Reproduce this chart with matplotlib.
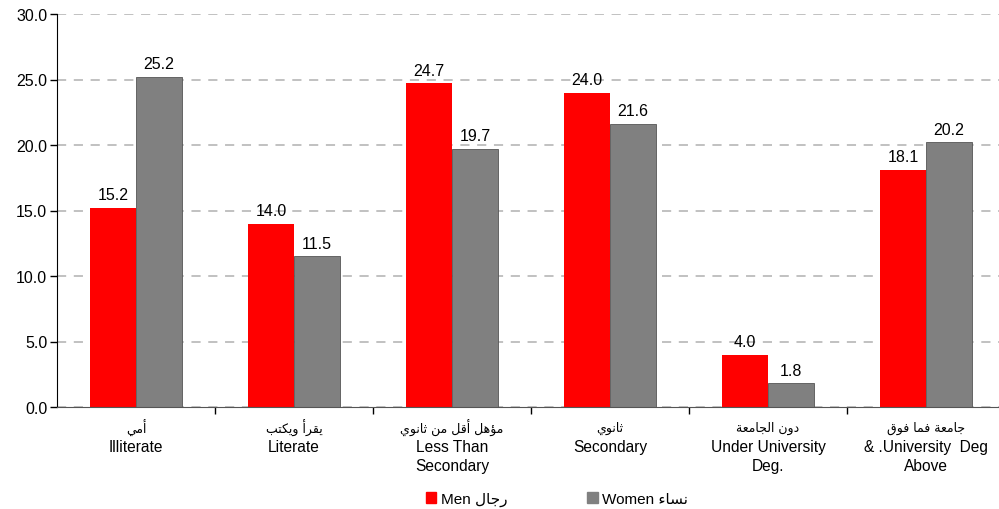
import matplotlib
matplotlib.use("Agg")
import matplotlib.pyplot as plt
import matplotlib.transforms as mtransforms
from matplotlib.patches import Patch
import numpy as np

# Arabic presentation forms: (isolated, final, initial, medial)
ARABIC_FORMS = {
    'ء': (0xFE80, None, None, None),
    'أ': (0xFE83, 0xFE84, None, None),
    'ؤ': (0xFE85, 0xFE86, None, None),
    'ا': (0xFE8D, 0xFE8E, None, None),
    'ب': (0xFE8F, 0xFE90, 0xFE91, 0xFE92),
    'ة': (0xFE93, 0xFE94, None, None),
    'ت': (0xFE95, 0xFE96, 0xFE97, 0xFE98),
    'ث': (0xFE99, 0xFE9A, 0xFE9B, 0xFE9C),
    'ج': (0xFE9D, 0xFE9E, 0xFE9F, 0xFEA0),
    'د': (0xFEA9, 0xFEAA, None, None),
    'ر': (0xFEAD, 0xFEAE, None, None),
    'س': (0xFEB1, 0xFEB2, 0xFEB3, 0xFEB4),
    'ع': (0xFEC9, 0xFECA, 0xFECB, 0xFECC),
    'ف': (0xFED1, 0xFED2, 0xFED3, 0xFED4),
    'ق': (0xFED5, 0xFED6, 0xFED7, 0xFED8),
    'ك': (0xFED9, 0xFEDA, 0xFEDB, 0xFEDC),
    'ل': (0xFEDD, 0xFEDE, 0xFEDF, 0xFEE0),
    'م': (0xFEE1, 0xFEE2, 0xFEE3, 0xFEE4),
    'ن': (0xFEE5, 0xFEE6, 0xFEE7, 0xFEE8),
    'ه': (0xFEE9, 0xFEEA, 0xFEEB, 0xFEEC),
    'و': (0xFEED, 0xFEEE, None, None),
    'ي': (0xFEF1, 0xFEF2, 0xFEF3, 0xFEF4),
}


def ar(text):
    """Shape Arabic text and reverse it, since matplotlib has no bidi/shaping."""
    out = []
    for i, ch in enumerate(text):
        forms = ARABIC_FORMS.get(ch)
        if forms is None:
            out.append(ch)
            continue
        prev = ARABIC_FORMS.get(text[i - 1]) if i > 0 else None
        nxt = ARABIC_FORMS.get(text[i + 1]) if i + 1 < len(text) else None
        join_prev = prev is not None and prev[2] is not None and forms[1] is not None
        join_next = nxt is not None and nxt[1] is not None and forms[2] is not None
        if join_prev and join_next:
            code = forms[3]
        elif join_prev:
            code = forms[1]
        elif join_next:
            code = forms[2]
        else:
            code = forms[0]
        out.append(chr(code))
    return ''.join(out[::-1])


categories_ar = ['أمي', 'يقرأ ويكتب', 'مؤهل أقل من ثانوي', 'ثانوي', 'دون الجامعة', 'جامعة فما فوق']
categories_en = ['Illiterate', 'Literate', 'Less Than\nSecondary', 'Secondary',
                 'Under University\nDeg.', '& .University  Deg\nAbove']
men = [15.2, 14.0, 24.7, 24.0, 4.0, 18.1]
women = [25.2, 11.5, 19.7, 21.6, 1.8, 20.2]

RED = '#ff0000'
GRAY = '#808080'
EN_FONT = ['Liberation Sans', 'DejaVu Sans']

fig = plt.figure(figsize=(9.99, 5.10), dpi=100)
ax = fig.add_axes([57 / 999, 102 / 510, 948 / 999, 393 / 510])

x = np.arange(len(categories_en))
w = 0.29
ax.bar(x - w / 2, men, w, color=RED, zorder=2)
ax.bar(x + w / 2, women, w, color=GRAY, edgecolor='#555555', linewidth=0.6, zorder=2)

# etiketler
for xi, v in zip(x - w / 2, men):
    ax.annotate(f'{v:.1f}', (xi, v), xytext=(0, 4), textcoords='offset points',
                ha='center', va='bottom', fontsize=11.5, family=EN_FONT, zorder=3)
for xi, v in zip(x + w / 2, women):
    ax.annotate(f'{v:.1f}', (xi, v), xytext=(0, 4), textcoords='offset points',
                ha='center', va='bottom', fontsize=11.5, family=EN_FONT, zorder=3)

ax.set_xlim(-0.5, len(x) - 0.5)
ax.set_ylim(0, 30)
ax.set_yticks(np.arange(0, 31, 5))
ax.set_yticklabels([f'{t:.1f}' for t in np.arange(0, 31, 5)], family=EN_FONT, fontsize=11.5)
ax.yaxis.grid(True, color='#b0b0b0', linestyle=(0, (6, 5)), linewidth=1.1, zorder=0)
ax.set_axisbelow(True)
ax.tick_params(axis='y', length=5, width=1, direction='out', pad=2)

ax.set_xticks([])
ax.set_xticks(np.arange(0.5, len(x) - 0.5, 1), minor=True)
ax.tick_params(axis='x', which='minor', length=5, width=1, direction='out')

for side in ['top', 'right']:
    ax.spines[side].set_visible(False)
ax.spines['left'].set_color('black')
ax.spines['bottom'].set_color('#555555')

trans = mtransforms.blended_transform_factory(ax.transData, fig.transFigure)
for xi, a, e in zip(x, categories_ar, categories_en):
    ax.text(xi, 1 - 428 / 510, ar(a), transform=trans, ha='center', va='center',
            fontsize=9, family='DejaVu Sans')
    ax.text(xi, 1 - 440 / 510, e, transform=trans, ha='center', va='top',
            fontsize=11.2, family=EN_FONT, linespacing=1.35)

handles = [Patch(color=RED), Patch(color=GRAY)]
labels = ['Men ' + ar('رجال'), 'Women ' + ar('نساء')]
fig.legend(handles, labels, loc='center', bbox_to_anchor=(557 / 999, 1 - 500 / 510),
           ncol=2, frameon=False, handlelength=0.7, handleheight=0.7, handletextpad=0.3,
           columnspacing=5.2, prop={'family': EN_FONT, 'size': 11})

fig.savefig('out.png', dpi=100)
